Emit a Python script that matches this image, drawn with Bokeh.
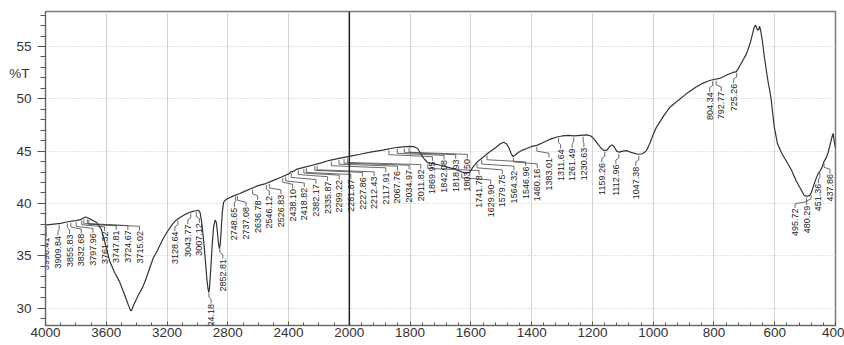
import numpy as np
from bokeh.plotting import figure
from bokeh.models import FixedTicker, Span, Range1d, LinearAxis
from bokeh.core.properties import value
from bokeh.embed import file_html
from bokeh.resources import INLINE

# ---------------- data ----------------
wavenumber = [4000, 3990, 3960, 3930, 3900, 3870, 3850, 3830, 3800, 3770, 3750, 3735, 3720, 3705,
              3685, 3665, 3650, 3633, 3610, 3590, 3578, 3545, 3512, 3480, 3455, 3440, 3432, 3420,
              3390, 3360, 3338, 3310, 3290, 3260, 3230, 3207, 3170, 3141, 3110, 3075, 3040, 3010,
              2992, 2982, 2972, 2960, 2948, 2938, 2930, 2925, 2920, 2912, 2903, 2893, 2884, 2876,
              2868, 2860, 2855, 2849, 2843, 2836, 2828, 2810, 2790, 2765, 2748, 2720, 2690, 2650,
              2600, 2550, 2500, 2450, 2420, 2395, 2385, 2375, 2350, 2300, 2245, 2190, 2136, 2070,
              2000, 1965, 1931, 1890, 1855, 1825, 1800, 1785, 1775, 1768, 1760, 1752, 1742, 1725,
              1700, 1675, 1650, 1630, 1615, 1603, 1595, 1580, 1565, 1552, 1540, 1520, 1503, 1492,
              1483, 1475, 1468, 1462, 1455, 1443, 1430, 1416, 1400, 1383, 1367, 1350, 1334, 1317,
              1300, 1280, 1261, 1240, 1218, 1205, 1196, 1185, 1172, 1162, 1152, 1143, 1136, 1128,
              1120, 1112, 1100, 1088, 1070, 1050, 1035, 1022, 1010, 1000, 989, 965, 945, 920, 890,
              860, 840, 814, 800, 781, 760, 740, 726, 712, 693, 680, 668, 663, 657, 653, 650, 646,
              641, 634, 626, 620, 617, 612, 602, 591, 577, 563, 545, 530, 515, 503, 492, 486, 480,
              472, 465, 458, 451, 445, 438, 430, 424, 417, 412, 408, 405, 402, 400]
transmittance = [37.95, 37.95, 38.0, 38.05, 38.1, 38.2, 38.25, 38.3, 38.35, 38.45, 38.6, 38.7, 38.6, 38.5,
                 38.35, 38.2, 37.9, 37.55, 36.3, 35.2, 34.5, 33.4, 32.5, 31.3, 30.3, 29.75, 29.8, 30.3,
                 31.2, 32.0, 32.8, 34.0, 34.8, 35.6, 36.5, 37.1, 37.9, 38.4, 38.7, 39.0, 39.2, 39.3,
                 39.35, 39.1, 38.2, 36.6, 34.6, 32.8, 31.8, 31.5, 32.0, 33.8, 36.0, 37.8, 38.4, 38.2,
                 37.2, 36.0, 35.7, 36.2, 37.6, 39.2, 40.1, 40.4, 40.55, 40.7, 40.8, 40.95, 41.15, 41.4,
                 41.7, 41.9, 42.2, 42.5, 42.7, 42.85, 43.05, 43.0, 43.25, 43.45, 43.65, 43.85, 44.1, 44.3,
                 44.5, 44.7, 44.9, 45.1, 45.3, 45.4, 45.45, 45.4, 45.25, 44.9, 44.5, 44.2, 43.9, 43.8,
                 43.65, 43.45, 43.25, 43.0, 42.9, 43.0, 43.4, 43.95, 44.3, 44.6, 44.9, 45.3, 45.7, 45.85,
                 45.7, 45.35, 44.8, 44.5, 44.6, 44.9, 45.1, 45.25, 45.45, 45.55, 45.75, 46.0, 46.2, 46.35,
                 46.45, 46.5, 46.45, 46.5, 46.55, 46.45, 46.2, 45.8, 45.3, 45.05, 45.1, 45.45, 45.6, 45.4,
                 45.0, 44.9, 45.0, 45.05, 44.85, 44.7, 44.75, 45.05, 45.8, 46.6, 47.3, 48.4, 49.2, 49.8, 50.5,
                 51.1, 51.45, 51.75, 51.85, 51.95, 52.25, 52.5, 52.6, 53.3, 54.3, 55.4, 56.8, 57.05, 56.6, 56.6, 56.95, 56.5,
                 55.6, 54.0, 52.4, 51.3, 50.9, 50.0, 47.4, 45.7, 44.8, 44.1, 43.2, 42.2, 41.4, 40.75, 40.7, 40.75, 41.0,
                 41.7, 42.3, 42.8, 43.1, 43.4, 44.0, 44.4, 44.9, 45.7, 46.3, 46.7, 46.1, 45.6, 45.3]

peak_wavenumbers = [3996.41, 3909.84, 3855.83, 3832.68, 3797.96, 3761.32, 3747.81, 3724.67, 3715.02,
                    3128.64, 3043.77, 3007.12, 2924.18, 2852.81, 2748.65, 2737.08, 2636.78,
                    2546.12, 2526.83, 2438.10, 2418.82, 2382.17, 2335.87, 2299.22, 2281.87, 2227.86,
                    2212.43, 2117.91, 2067.76, 2034.97, 2011.82, 1869.95, 1842.08, 1818.93, 1803.50,
                    1741.78, 1629.90, 1579.75, 1564.32, 1546.96, 1460.16, 1383.01, 1311.64, 1261.49,
                    1230.63, 1159.26, 1112.96, 1047.38, 804.34, 792.77, 725.26, 495.72, 480.29,
                    451.36, 437.86]
peak_labels = [f"{w:.2f}" for w in peak_wavenumbers]

x_tick_values = [4000, 3600, 3200, 2800, 2400, 2000, 1800, 1600, 1400, 1200, 1000, 800, 600, 400]
y_tick_values = [30, 35, 40, 45, 50, 55]
y_title = "%T"
y_title_at = 52.4


# ---------------- axis transform (scale doubles below 2000 cm-1) ----------------
def to_pos(w):
    w = np.asarray(w, dtype=float)
    return np.where(w >= 2000, 4000 - w, 2000 + 2 * (2000 - w))


W, H = 844, 345
BL, BR, BT, BB = 45, 9, 11, 20
FRAME_W = W - BL - BR
POS_MAX = float(to_pos(400))
px_per_pos = FRAME_W / POS_MAX

p = figure(width=W, height=H, output_backend="svg", toolbar_location=None,
           x_range=Range1d(0, POS_MAX), y_range=Range1d(28.33, 58.35),
           min_border_left=BL, min_border_right=BR, min_border_top=BT, min_border_bottom=BB)
p.background_fill_color = "white"
p.border_fill_color = "white"
p.outline_line_color = "#7a7a7a"
p.outline_line_width = 1.5

xs_curve = to_pos(wavenumber)
p.line(xs_curve, transmittance, line_color="#333333", line_width=1.2)

# ---------------- peak labels ----------------
peak_pos = to_pos(peak_wavenumbers)
peak_T = np.interp(np.array(peak_wavenumbers)[::-1], np.array(wavenumber)[::-1],
                   np.array(transmittance)[::-1])[::-1]
spacing = 11.65
shift = -3.0
left_lim, right_lim = 0.8, FRAME_W - 5.5
ppx = peak_pos * px_per_pos
lab_px = np.zeros_like(ppx)
for i, v in enumerate(ppx):
    cand = max(v + shift, left_lim)
    if i > 0:
        cand = max(cand, lab_px[i - 1] + spacing)
    lab_px[i] = cand
lab_px[-1] = min(lab_px[-1], right_lim)
for i in range(len(lab_px) - 2, -1, -1):
    lab_px[i] = min(lab_px[i], lab_px[i + 1] - spacing)
lab_pos = lab_px / px_per_pos
lab_top = peak_T - 1.2

lead_x = [[a, a, b, b] for a, b in zip(peak_pos, lab_pos)]
lead_y = [[t - 0.15, t - 0.55, top + 0.45, top + 0.05] for t, top in zip(peak_T, lab_top)]
p.multi_line(lead_x, lead_y, line_color="#444444", line_width=0.8)
p.text(lab_pos, lab_top, text=peak_labels, angle=np.pi / 2,
       text_align="right", text_baseline="middle",
       text_font=value("Liberation Sans"),
       text_font_size="9px", text_color="#222222")

# ---------------- axes / grid ----------------
x_ticks = list(to_pos(x_tick_values))
p.xaxis.ticker = FixedTicker(
    ticks=x_ticks,
    minor_ticks=list(np.arange(0, 2001, 100)) + list(np.arange(2000, POS_MAX + 1, 80)))
p.xaxis.major_label_overrides = {float(t): str(v) for t, v in zip(x_ticks, x_tick_values)}
p.yaxis.ticker = FixedTicker(ticks=y_tick_values, minor_ticks=list(range(28, 59)))

for ax in (p.xaxis, p.yaxis):
    ax.axis_line_color = "#666666"
    ax.major_tick_line_color = "#555555"
    ax.minor_tick_line_color = "#555555"
    ax.major_label_text_font = "Liberation Sans"
    ax.major_label_text_font_size = "13.5px"
    ax.major_label_text_color = "#333333"

p.xaxis.major_tick_in = 4
p.xaxis.major_tick_out = 0
p.xaxis.minor_tick_in = 3
p.xaxis.minor_tick_out = 0
p.xaxis.major_label_standoff = 2

p.yaxis.major_tick_in = 0
p.yaxis.major_tick_out = 8
p.yaxis.minor_tick_in = 0
p.yaxis.minor_tick_out = 5
p.yaxis.major_label_standoff = 6

# "%T" title drawn as the single label of an outer, line-less axis
title_axis = LinearAxis(ticker=FixedTicker(ticks=[y_title_at], minor_ticks=[]),
                        major_label_overrides={y_title_at: y_title},
                        axis_line_color=None, major_tick_line_color=None,
                        minor_tick_line_color=None, major_tick_out=0, major_tick_in=0,
                        major_label_standoff=-16,
                        major_label_text_font="Liberation Sans",
                        major_label_text_font_size="13.5px",
                        major_label_text_color="#333333")
p.add_layout(title_axis, "left")

p.xgrid.grid_line_color = "#d4d4d4"
p.xgrid.grid_line_width = 1
p.ygrid.grid_line_color = "#c8c8c8"
p.ygrid.grid_line_dash = "1 2"

p.add_layout(Span(location=2000, dimension="height", line_color="#222222", line_width=1.5))

open("out.html", "w").write(file_html(p, INLINE))
